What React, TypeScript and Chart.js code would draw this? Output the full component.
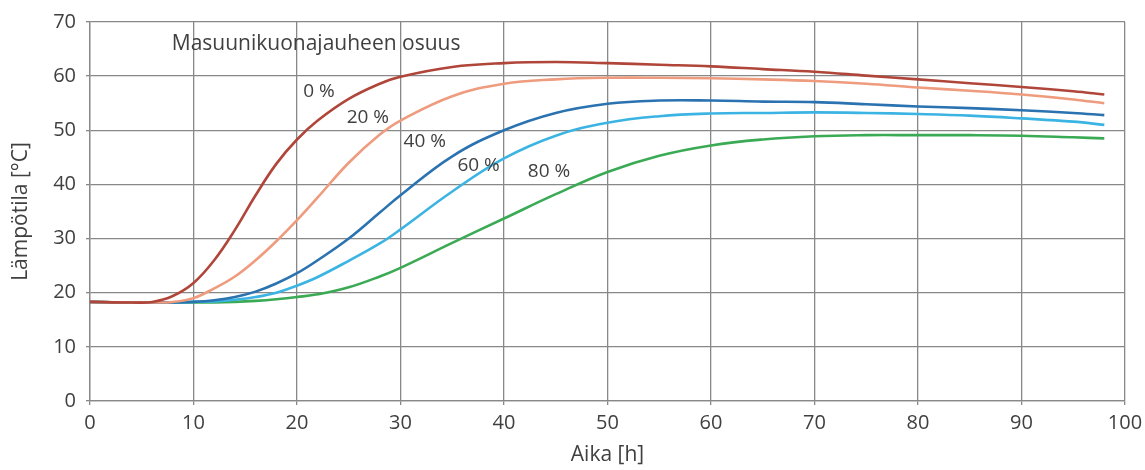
import React, { useEffect, useRef } from "react";
import { Chart, registerables } from "chart.js";

Chart.register(...registerables);

const hours = [0, 4, 6, 8, 10, 12, 14, 16, 18, 20, 22, 25, 28, 30, 35, 40, 45, 50, 55, 60, 65, 70, 75, 80, 85, 90, 95, 98];

const slag0 = [18.3, 18.2, 18.3, 19.4, 21.8, 26.0, 31.6, 38.0, 43.8, 48.3, 51.8, 55.8, 58.6, 59.9, 61.7, 62.4, 62.6, 62.4, 62.1, 61.8, 61.3, 60.8, 60.1, 59.4, 58.7, 58.0, 57.2, 56.6];
const slag20 = [18.3, 18.2, 18.2, 18.3, 19.0, 20.8, 23.0, 26.0, 29.5, 33.4, 37.6, 44.0, 49.2, 51.8, 56.3, 58.6, 59.4, 59.7, 59.7, 59.6, 59.4, 59.1, 58.6, 57.9, 57.3, 56.6, 55.7, 55.0];
const slag40 = [18.3, 18.2, 18.2, 18.2, 18.3, 18.6, 19.2, 20.2, 21.7, 23.6, 26.0, 30.0, 34.8, 38.0, 45.2, 50.0, 53.2, 54.9, 55.5, 55.5, 55.3, 55.2, 54.8, 54.4, 54.1, 53.7, 53.2, 52.8];
const slag60 = [18.3, 18.2, 18.2, 18.2, 18.3, 18.4, 18.7, 19.2, 20.0, 21.3, 22.9, 25.9, 29.1, 31.7, 38.7, 44.8, 49.0, 51.4, 52.6, 53.1, 53.2, 53.3, 53.2, 53.0, 52.7, 52.2, 51.6, 51.0];
const slag80 = [18.3, 18.2, 18.2, 18.2, 18.2, 18.2, 18.3, 18.5, 18.8, 19.2, 19.7, 21.0, 23.0, 24.6, 29.2, 33.7, 38.2, 42.3, 45.3, 47.2, 48.3, 48.9, 49.1, 49.1, 49.1, 49.0, 48.7, 48.5];

const seriesNames = ["0 %", "20 %", "40 %", "60 %", "80 %"];
const seriesColors = ["#B0463A", "#EE9B7E", "#2A72B0", "#3CB4E3", "#3BAA55"];
const seriesValues = [slag0, slag20, slag40, slag60, slag80];

// annotation labels: [text, x (h), y (°C)]
const labelTexts = ["Masuunikuonajauheen osuus", "0 %", "20 %", "40 %", "60 %", "80 %"];
const labelX = [7.9, 20.6, 24.8, 30.3, 35.5, 42.3];
const labelY = [65.9, 57.2, 52.4, 48.0, 43.4, 42.3];

const xTicks = [0, 10, 20, 30, 40, 50, 60, 70, 80, 90, 100];

const FONT = "'Open Sans', 'DejaVu Sans', sans-serif";
const TEXT = "#404040";
const GRID = "#888888";

const labelPlugin = {
  id: "curveLabels",
  afterDatasetsDraw(chart: any) {
    const { ctx, scales } = chart;
    ctx.save();
    ctx.fillStyle = TEXT;
    ctx.textAlign = "left";
    ctx.textBaseline = "middle";
    labelTexts.forEach((t, i) => {
      ctx.font = i === 0 ? `21px ${FONT}` : `19px ${FONT}`;
      ctx.fillText(t, scales.x.getPixelForValue(labelX[i]), scales.y.getPixelForValue(labelY[i]));
    });
    ctx.restore();
  },
};

export default function App() {
  const ref = useRef<HTMLCanvasElement | null>(null);
  useEffect(() => {
    document.body.style.margin = "0";
    const canvas = ref.current;
    if (!canvas) return;
    const chart = new Chart(canvas, {
      type: "line",
      data: {
        datasets: seriesValues.map((vals, i) => ({
          label: seriesNames[i],
          data: hours.map((h, j) => ({ x: h, y: vals[j] })),
          borderColor: seriesColors[i],
          backgroundColor: seriesColors[i],
          borderWidth: 2.6,
          pointRadius: 0,
          tension: 0.4,
          fill: false,
        })),
      },
      options: {
        animation: false,
        responsive: false,
        maintainAspectRatio: false,
        layout: { padding: { top: 22, right: 20, left: 0, bottom: 0 } },
        plugins: { legend: { display: false }, tooltip: { enabled: false } },
        scales: {
          x: {
            type: "linear",
            min: 0,
            max: 100,
            afterBuildTicks: (scale: any) => {
              scale.ticks = xTicks.map((v) => ({ value: v }));
            },
            afterFit: (scale: any) => {
              scale.height = 69;
              scale.paddingLeft = 0;
              scale.paddingRight = 0;
            },
            grid: { color: GRID, lineWidth: 1.3, tickLength: 4 },
            border: { color: GRID, width: 1.3 },
            ticks: { color: TEXT, font: { family: FONT, size: 20 }, padding: 6, maxRotation: 0 },
            title: {
              display: true,
              text: "Aika [h]",
              color: TEXT,
              font: { family: FONT, size: 21 },
              padding: { top: 0, bottom: 2 },
            },
          },
          y: {
            min: 0,
            max: 70,
            ticks: { stepSize: 10, color: TEXT, font: { family: FONT, size: 20 }, padding: 10 },
            afterFit: (scale: any) => {
              scale.width = 90;
              scale.paddingTop = 0;
              scale.paddingBottom = 0;
            },
            grid: { color: GRID, lineWidth: 1.3, tickLength: 4 },
            border: { color: GRID, width: 1.3 },
            title: {
              display: true,
              text: "Lämpötila [°C]",
              color: TEXT,
              font: { family: FONT, size: 21 },
              padding: { top: 8, bottom: 0 },
            },
          },
        },
      },
      plugins: [labelPlugin],
    });
    return () => chart.destroy();
  }, []);
  return <canvas ref={ref} width={1145} height={470} style={{ display: "block" }} />;
}
